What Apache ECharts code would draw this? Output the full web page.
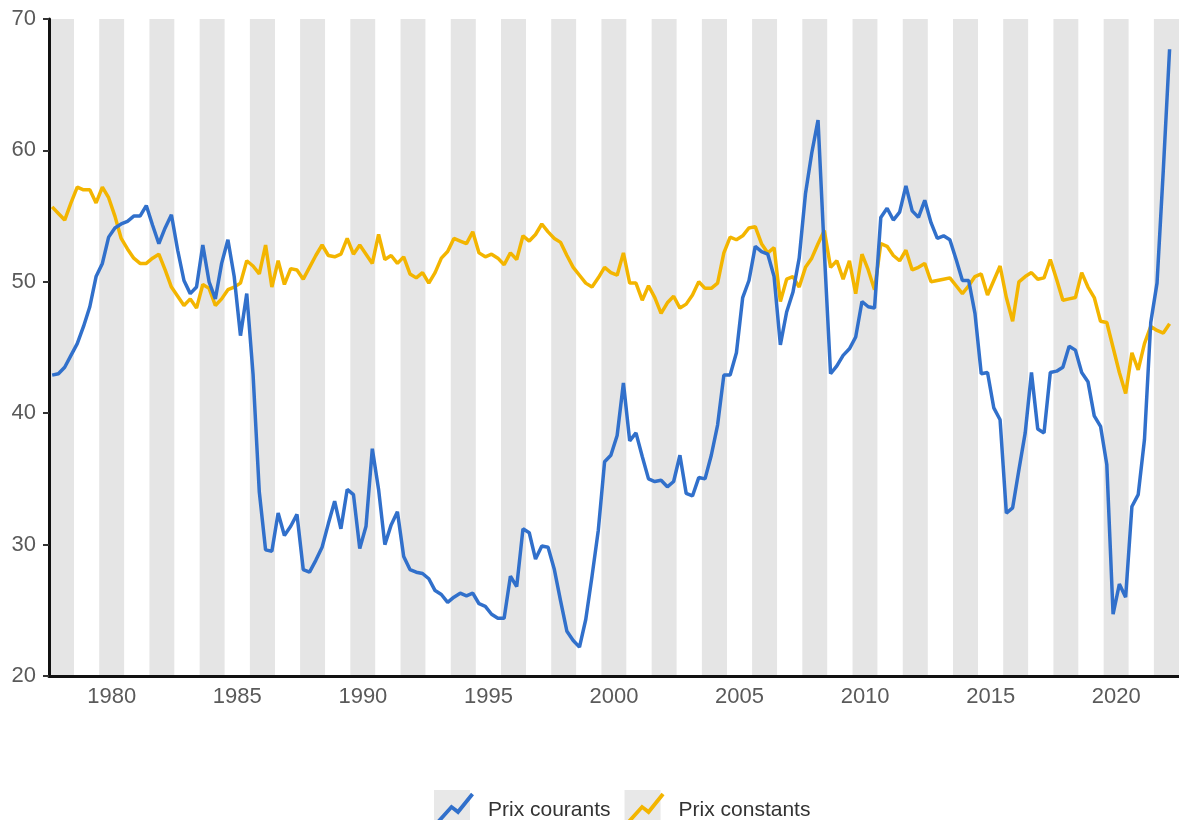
<!DOCTYPE html>
<html>
<head>
<meta charset="utf-8">
<script src="https://cdn.jsdelivr.net/npm/echarts@6/dist/echarts.min.js"></script>
<style>
html,body{margin:0;padding:0;background:#ffffff;}
#chart{width:1179px;height:820px;}
</style>
</head>
<body>
<div id="chart"></div>
<script>
// ---- DATA ----
const years = ['1978','1979','1980','1981','1982','1983','1984','1985','1986','1987',
  '1988','1989','1990','1991','1992','1993','1994','1995','1996','1997',
  '1998','1999','2000','2001','2002','2003','2004','2005','2006','2007',
  '2008','2009','2010','2011','2012','2013','2014','2015','2016','2017',
  '2018','2019','2020','2021','2022'];
const xTickLabels = ['1980','1985','1990','1995','2000','2005','2010','2015','2020'];
const yTicks = [20, 30, 40, 50, 60, 70];
const seriesNames = ['Prix courants', 'Prix constants'];
const startYear = 1978; // first quarter: 1978 T1, quarterly values

const prixCourants = [
  42.9, 43.0, 43.5, 44.4,   45.3, 46.6, 48.1, 50.4,   51.4, 53.4, 54.1, 54.4,
  54.6, 55.0, 55.0, 55.8,   54.3, 52.9, 54.1, 55.1,   52.4, 50.1, 49.1, 49.6,
  52.8, 50.0, 48.7, 51.4,   53.2, 50.4, 45.9, 49.1,   43.0, 34.0, 29.6, 29.5,
  32.4, 30.7, 31.4, 32.3,   28.1, 27.9, 28.8, 29.8,   31.6, 33.3, 31.2, 34.2,
  33.8, 29.7, 31.4, 37.3,   34.2, 30.0, 31.5, 32.5,   29.1, 28.1, 27.9, 27.8,
  27.4, 26.5, 26.2, 25.6,   26.0, 26.3, 26.1, 26.3,   25.5, 25.3, 24.7, 24.4,
  24.4, 27.6, 26.8, 31.2,   30.9, 28.9, 29.9, 29.8,   28.1, 25.7, 23.4, 22.7,
  22.2, 24.3, 27.6, 31.1,   36.3, 36.8, 38.3, 42.3,   37.9, 38.5, 36.7, 35.0,
  34.8, 34.9, 34.4, 34.8,   36.8, 33.9, 33.7, 35.1,   35.0, 36.8, 39.1, 42.9,
  42.9, 44.6, 48.8, 50.1,   52.7, 52.3, 52.1, 50.4,   45.2, 47.7, 49.2, 51.8,
  56.7, 59.8, 62.3, 52.3,   43.0, 43.6, 44.4, 44.9,   45.8, 48.5, 48.1, 48.0,
  54.9, 55.6, 54.7, 55.3,   57.3, 55.4, 54.9, 56.2,   54.5, 53.3, 53.5, 53.2,
  51.7, 50.1, 50.1, 47.6,   43.0, 43.1, 40.4, 39.5,   32.4, 32.8, 35.7, 38.5,
  43.1, 38.8, 38.5, 43.1,   43.2, 43.5, 45.1, 44.8,   43.1, 42.4, 39.8, 39.0,
  36.1, 24.7, 27.0, 26.0,   32.9, 33.8, 38.0, 46.9,   49.9, 58.5, 67.7
];

const prixConstants = [
  55.7, 55.2, 54.7, 56.0,   57.2, 57.0, 57.0, 56.0,   57.2, 56.4, 55.0, 53.3,
  52.5, 51.8, 51.4, 51.4,   51.8, 52.1, 50.9, 49.6,   48.9, 48.2, 48.7, 48.0,
  49.8, 49.5, 48.2, 48.7,   49.4, 49.6, 49.9, 51.6,   51.2, 50.6, 52.8, 49.6,
  51.6, 49.8, 51.0, 50.9,   50.2, 51.1, 52.0, 52.8,   52.0, 51.9, 52.1, 53.3,
  52.1, 52.8, 52.1, 51.4,   53.6, 51.7, 52.0, 51.4,   51.9, 50.6, 50.3, 50.7,
  49.9, 50.7, 51.8, 52.3,   53.3, 53.1, 52.9, 53.8,   52.2, 51.9, 52.1, 51.8,
  51.3, 52.2, 51.7, 53.5,   53.1, 53.6, 54.4, 53.8,   53.3, 53.0, 52.0, 51.1,
  50.5, 49.9, 49.6, 50.3,   51.1, 50.7, 50.5, 52.2,   49.9, 49.9, 48.6, 49.7,
  48.8, 47.6, 48.4, 48.9,   48.0, 48.3, 49.0, 50.0,   49.5, 49.5, 49.9, 52.2,
  53.4, 53.2, 53.5, 54.1,   54.2, 52.9, 52.2, 52.6,   48.5, 50.2, 50.4, 49.6,
  51.1, 51.8, 52.9, 53.9,   51.1, 51.6, 50.2, 51.6,   49.1, 52.1, 50.9, 49.4,
  52.9, 52.7, 52.0, 51.6,   52.4, 50.9, 51.1, 51.4,   50.0, 50.1, 50.2, 50.3,
  49.7, 49.1, 49.7, 50.4,   50.6, 49.0, 50.1, 51.2,   48.8, 47.0, 50.0, 50.4,
  50.7, 50.2, 50.3, 51.7,   50.2, 48.6, 48.7, 48.8,   50.7, 49.6, 48.8, 47.0,
  46.9, 45.0, 43.1, 41.5,   44.6, 43.3, 45.3, 46.6,   46.3, 46.1, 46.8
];

// ---- BUILD ----
const FONT = 'Arial, "Liberation Sans", sans-serif';
function toPoints(vals) {
  // each quarterly value placed at the middle of its quarter
  return vals.map((v, i) => [startYear + (i + 0.5) / 4, v]);
}

// corner specks so that every legend icon shares the same 40x40 frame
const BOX = 40;
const specks = ' M0 0 L0.01 0 L0.01 0.01 Z M' + BOX + ' ' + BOX + ' L' + (BOX - 0.01) + ' ' + BOX + ' L' + (BOX - 0.01) + ' ' + (BOX - 0.01) + ' Z';

// legend zig-zag icon: stroked polyline turned into a filled polygon
function zigzagIcon(pts, w) {
  const h = w / 2, n = pts.length, L = [], R = [];
  const nrm = (a, b) => { const dx = b[0] - a[0], dy = b[1] - a[1], l = Math.hypot(dx, dy); return [-dy / l, dx / l]; };
  for (let i = 0; i < n; i++) {
    let v;
    if (i === 0) v = nrm(pts[0], pts[1]);
    else if (i === n - 1) v = nrm(pts[n - 2], pts[n - 1]);
    else {
      const a = nrm(pts[i - 1], pts[i]), b = nrm(pts[i], pts[i + 1]);
      let mx = a[0] + b[0], my = a[1] + b[1]; const ml = Math.hypot(mx, my);
      mx /= ml; my /= ml; const c = mx * a[0] + my * a[1];
      v = [mx / c, my / c];
    }
    L.push([pts[i][0] + v[0] * h, pts[i][1] + v[1] * h]);
    R.push([pts[i][0] - v[0] * h, pts[i][1] - v[1] * h]);
  }
  const poly = L.concat(R.reverse());
  return 'path://M' + poly.map(p => p[0].toFixed(2) + ' ' + p[1].toFixed(2)).join(' L') + ' Z' + specks;
}
const zz = zigzagIcon([[4, 32], [17.5, 17], [24, 22], [38.5, 4]], 3.8);
const boxIcon = 'path://M0 0 L36 0 L36 40 L0 40 Z' + specks;

const legendBase = {
  left: 434, top: 790, orient: 'horizontal', padding: 0,
  itemWidth: BOX, itemHeight: BOX, itemGap: 14,
  selectedMode: false,
  data: seriesNames
};

const chart = echarts.init(document.getElementById('chart'), null, { renderer: 'canvas' });
chart.setOption({
  animation: false,
  backgroundColor: '#ffffff',
  textStyle: { fontFamily: FONT },
  grid: { left: 49, right: 0, top: 19, bottom: 144, containLabel: false },
  legend: [
    Object.assign({}, legendBase, {
      icon: boxIcon,
      itemStyle: { color: '#e8e8e8', borderWidth: 0 },
      textStyle: { fontSize: 21, fontFamily: FONT, color: 'rgba(0,0,0,0)', padding: [0, 0, 0, 9] }
    }),
    Object.assign({}, legendBase, {
      icon: zz,
      itemStyle: { borderWidth: 0 },
      textStyle: { fontSize: 21, fontFamily: FONT, color: '#333333', padding: [0, 0, 0, 9] }
    })
  ],
  xAxis: [
    {
      type: 'category', data: years, boundaryGap: true, position: 'bottom',
      axisLine: { show: true, lineStyle: { color: '#111111', width: 3 } },
      axisTick: { show: false },
      axisLabel: {
        interval: (idx, val) => xTickLabels.indexOf(val) >= 0,
        fontSize: 22, color: '#5a5a5a', fontFamily: FONT, margin: 10
      },
      splitLine: { show: false },
      splitArea: { show: true, interval: 0, areaStyle: { color: ['#e5e5e5', '#ffffff'] } }
    },
    {
      type: 'value', min: startYear, max: startYear + years.length, show: false,
      splitLine: { show: false }
    }
  ],
  yAxis: {
    type: 'value', min: yTicks[0], max: yTicks[yTicks.length - 1], interval: 10,
    axisLine: { show: true, lineStyle: { color: '#111111', width: 3 } },
    axisTick: { show: true, length: 6, lineStyle: { color: '#333333', width: 2 } },
    axisLabel: { fontSize: 22, color: '#5a5a5a', fontFamily: FONT, margin: 13 },
    splitLine: { show: false }
  },
  series: [
    {
      name: seriesNames[1], type: 'line', xAxisIndex: 1, yAxisIndex: 0,
      data: toPoints(prixConstants), showSymbol: false, symbol: 'none',
      lineStyle: { color: '#f3b500', width: 3.5 }, itemStyle: { color: '#f3b500' },
      z: 3
    },
    {
      name: seriesNames[0], type: 'line', xAxisIndex: 1, yAxisIndex: 0,
      data: toPoints(prixCourants), showSymbol: false, symbol: 'none',
      lineStyle: { color: '#3170cb', width: 3.5 }, itemStyle: { color: '#3170cb' },
      z: 4
    }
  ]
});
</script>
</body>
</html>
